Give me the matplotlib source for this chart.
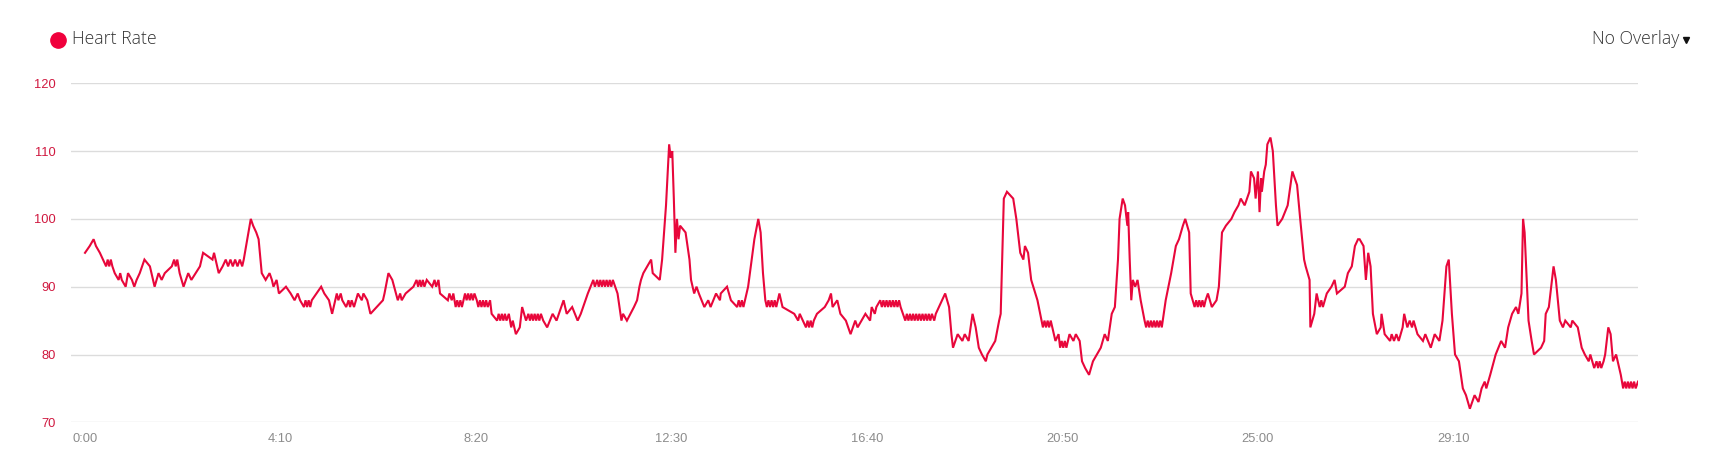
import matplotlib
matplotlib.use("Agg")
import matplotlib.pyplot as plt
from matplotlib.lines import Line2D

# heart rate samples (seconds from start, bpm)
seconds = [
    0, 6, 11, 14, 19, 23, 27, 29, 31, 33, 35, 38, 43, 45, 47, 52, 55, 60, 63, 66,
    70, 76, 83, 89, 94, 98, 102, 111, 114, 116, 118, 121, 126, 132, 136, 147, 151, 163, 165, 171,
    176, 180, 183, 186, 189, 192, 195, 198, 201, 203, 206, 212, 215, 219, 222, 226, 231, 236, 239, 241,
    245, 248, 257, 263, 268, 272, 275, 280, 282, 284, 286, 288, 290, 302, 306, 312, 316, 322, 324, 327,
    329, 334, 337, 339, 341, 344, 349, 354, 356, 361, 365, 373, 381, 383, 388, 393, 400, 403, 405, 410,
    420, 424, 426, 428, 430, 432, 434, 437, 444, 447, 449, 452, 454, 464, 466, 469, 471, 474, 476, 478,
    480, 482, 484, 486, 488, 490, 492, 494, 496, 498, 501, 503, 505, 507, 509, 511, 513, 515, 518, 520,
    527, 529, 531, 533, 535, 537, 539, 542, 545, 547, 551, 556, 559, 564, 567, 569, 571, 573, 575, 577,
    579, 581, 583, 586, 591, 598, 603, 606, 612, 616, 623, 630, 634, 640, 643, 650, 652, 655, 657, 659,
    661, 663, 665, 667, 669, 671, 673, 675, 681, 686, 688, 693, 702, 706, 709, 711, 714, 724, 726, 735,
    738, 743, 747, 749, 751, 753, 755, 757, 759, 761, 768, 773, 775, 779, 782, 785, 792, 797, 800, 807,
    812, 813, 821, 826, 834, 836, 838, 840, 842, 844, 848, 856, 861, 864, 867, 870, 872, 874, 876, 878,
    880, 882, 884, 888, 892, 907, 912, 914, 922, 924, 926, 928, 930, 932, 936, 946, 951, 954, 956, 962,
    966, 973, 979, 985, 988, 998, 1004, 1006, 1010, 1012, 1017, 1019, 1021, 1023, 1025, 1027, 1029, 1031, 1033, 1035,
    1037, 1039, 1041, 1043, 1049, 1051, 1053, 1055, 1057, 1059, 1061, 1063, 1065, 1067, 1069, 1071, 1073, 1075, 1077, 1079,
    1081, 1083, 1086, 1088, 1100, 1105, 1108, 1110, 1116, 1122, 1125, 1130, 1135, 1139, 1143, 1147, 1152, 1154, 1164, 1169,
    1171, 1175, 1179, 1187, 1191, 1196, 1200, 1202, 1206, 1210, 1218, 1225, 1227, 1229, 1231, 1233, 1235, 1237, 1241, 1245,
    1247, 1249, 1251, 1253, 1255, 1257, 1259, 1264, 1267, 1272, 1275, 1279, 1284, 1289, 1294, 1299, 1304, 1308, 1313, 1317,
    1321, 1323, 1327, 1330, 1333, 1334, 1336, 1338, 1340, 1343, 1346, 1350, 1355, 1357, 1359, 1361, 1363, 1365, 1367, 1369,
    1371, 1373, 1375, 1377, 1382, 1389, 1395, 1399, 1404, 1407, 1412, 1414, 1419, 1421, 1423, 1425, 1427, 1429, 1431, 1433,
    1436, 1441, 1447, 1450, 1454, 1459, 1466, 1470, 1475, 1478, 1483, 1489, 1491, 1495, 1497, 1500, 1502, 1504, 1505, 1508,
    1510, 1512, 1516, 1519, 1523, 1525, 1531, 1538, 1544, 1550, 1554, 1559, 1561, 1566, 1567, 1572, 1575, 1579, 1581, 1583,
    1588, 1594, 1598, 1601, 1611, 1615, 1620, 1624, 1628, 1630, 1635, 1638, 1641, 1644, 1647, 1652, 1657, 1658, 1662, 1669,
    1671, 1674, 1677, 1680, 1685, 1687, 1691, 1694, 1697, 1699, 1704, 1711, 1714, 1721, 1726, 1732, 1736, 1741, 1744, 1748,
    1752, 1757, 1762, 1766, 1771, 1777, 1782, 1786, 1790, 1792, 1797, 1804, 1811, 1816, 1820, 1825, 1830, 1833, 1837, 1839,
    1841, 1846, 1850, 1853, 1862, 1866, 1868, 1872, 1875, 1878, 1881, 1886, 1890, 1893, 1900, 1902, 1909, 1914, 1918, 1923,
    1925, 1930, 1933, 1935, 1937, 1939, 1942, 1944, 1948, 1951, 1954, 1958, 1964, 1967, 1969, 1971, 1973, 1975, 1977, 1979,
    1981, 1983, 1986,
]
bpm = [
    95, 96, 97, 96, 95, 94, 93, 94, 93, 94, 93, 92, 91, 92, 91, 90, 92, 91, 90, 91,
    92, 94, 93, 90, 92, 91, 92, 93, 94, 93, 94, 92, 90, 92, 91, 93, 95, 94, 95, 92,
    93, 94, 93, 94, 93, 94, 93, 94, 93, 94, 96, 100, 99, 98, 97, 92, 91, 92, 91, 90,
    91, 89, 90, 89, 88, 89, 88, 87, 88, 87, 88, 87, 88, 90, 89, 88, 86, 89, 88, 89,
    88, 87, 88, 87, 88, 87, 89, 88, 89, 88, 86, 87, 88, 89, 92, 91, 88, 89, 88, 89,
    90, 91, 90, 91, 90, 91, 90, 91, 90, 91, 90, 91, 89, 88, 89, 88, 89, 87, 88, 87,
    88, 87, 88, 89, 88, 89, 88, 89, 88, 89, 88, 87, 88, 87, 88, 87, 88, 87, 88, 86,
    85, 86, 85, 86, 85, 86, 85, 86, 84, 85, 83, 84, 87, 85, 86, 85, 86, 85, 86, 85,
    86, 85, 86, 85, 84, 86, 85, 86, 88, 86, 87, 85, 86, 88, 89, 91, 90, 91, 90, 91,
    90, 91, 90, 91, 90, 91, 90, 91, 89, 85, 86, 85, 87, 88, 90, 91, 92, 94, 92, 91,
    94, 102, 111, 109, 110, 103, 95, 100, 97, 99, 98, 94, 91, 89, 90, 89, 87, 88, 87, 89,
    88, 89, 90, 88, 87, 88, 87, 88, 87, 88, 90, 97, 100, 98, 92, 88, 87, 88, 87, 88,
    87, 88, 87, 89, 87, 86, 85, 86, 84, 85, 84, 85, 84, 85, 86, 87, 88, 89, 87, 88,
    86, 85, 83, 85, 84, 86, 85, 87, 86, 87, 88, 87, 88, 87, 88, 87, 88, 87, 88, 87,
    88, 87, 88, 87, 85, 86, 85, 86, 85, 86, 85, 86, 85, 86, 85, 86, 85, 86, 85, 86,
    85, 86, 85, 86, 89, 87, 83, 81, 83, 82, 83, 82, 86, 84, 81, 80, 79, 80, 82, 85,
    86, 103, 104, 103, 100, 95, 94, 96, 95, 91, 88, 84, 85, 84, 85, 84, 85, 84, 82, 83,
    81, 82, 81, 82, 81, 82, 83, 82, 83, 82, 79, 78, 77, 79, 80, 81, 83, 82, 86, 87,
    94, 100, 103, 102, 99, 101, 94, 88, 91, 90, 91, 88, 85, 84, 85, 84, 85, 84, 85, 84,
    85, 84, 85, 84, 88, 92, 96, 97, 99, 100, 98, 89, 87, 88, 87, 88, 87, 88, 87, 88,
    89, 87, 88, 90, 98, 99, 100, 101, 102, 103, 102, 104, 107, 106, 103, 107, 101, 106, 104, 107,
    108, 111, 112, 110, 102, 99, 100, 102, 107, 105, 100, 94, 93, 91, 84, 86, 89, 87, 88, 87,
    89, 90, 91, 89, 90, 92, 93, 96, 97, 97, 96, 91, 95, 93, 86, 83, 84, 86, 83, 82,
    83, 82, 83, 82, 84, 86, 84, 85, 84, 85, 83, 82, 83, 81, 83, 82, 85, 93, 94, 86,
    80, 79, 75, 74, 72, 74, 73, 75, 76, 75, 77, 80, 82, 81, 84, 86, 87, 86, 89, 100,
    98, 85, 82, 80, 81, 82, 86, 87, 90, 93, 91, 85, 84, 85, 84, 85, 84, 81, 80, 79,
    80, 78, 79, 78, 79, 78, 79, 80, 84, 83, 79, 80, 77, 75, 76, 75, 76, 75, 76, 75,
    76, 75, 76,
]
y_ticks = [70, 80, 90, 100, 110, 120]
x_ticks = [0, 250, 500, 750, 1000, 1250, 1500, 1750]
x_labels = ["0:00", "4:10", "8:20", "12:30", "16:40", "20:50", "25:00", "29:10"]

W, H = 1732, 459
fig = plt.figure(figsize=(W / 100, H / 100), dpi=100)
ax = fig.add_axes([70.7 / W, 1 - 422.3 / H, (1638 - 70.7) / W, (422.3 - 83.3) / H])

ax.plot(seconds, bpm, color="#e8073b", lw=1.5, solid_joinstyle="miter")

ax.set_xlim(-18.3, 1986)
ax.set_ylim(70, 120)
ax.set_yticks(y_ticks)
ax.set_xticks(x_ticks)
ax.set_xticklabels(x_labels)
ax.grid(axis="y", color="#dcdcdc", lw=1.0)
ax.set_axisbelow(True)
for s in ax.spines.values():
    s.set_visible(False)
ax.tick_params(axis="y", length=0, pad=11, labelsize=9.3, labelcolor="#d0183f")
ax.tick_params(axis="x", length=0, pad=7.5, labelsize=9.3, labelcolor="#8c8c8c")
for lbl in ax.get_xticklabels() + ax.get_yticklabels():
    lbl.set_family("Liberation Sans")

# header: legend dot + title, overlay menu on the right
fig.add_artist(Line2D([58.3 / W], [1 - 39.7 / H], marker="o", markersize=11,
                      color="#f0003c", transform=fig.transFigure))
fig.text(72.3 / W, 1 - 44.3 / H, "Heart Rate", family="Open Sans", fontweight="light",
         fontsize=12.7, color="#333333", va="baseline", ha="left")
fig.text(1679 / W, 1 - 44.3 / H, "No Overlay", family="Open Sans", fontweight="light",
         fontsize=12.7, color="#333333", va="baseline", ha="right")
fig.add_artist(Line2D([1686 / W], [1 - 39.5 / H], marker="v", markersize=4.5,
                      color="#111111", transform=fig.transFigure))

fig.savefig("out.png", dpi=100)
